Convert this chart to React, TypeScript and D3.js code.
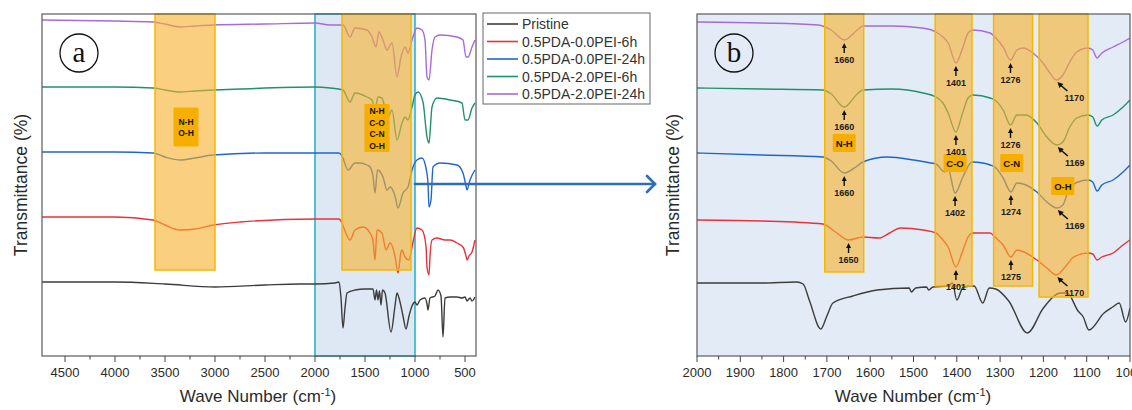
import * as d3 from "d3";

// series order: Pristine, red, blue, green, purple (bottom to top)
const seriesNames = ["Pristine", "0.5PDA-0.0PEI-6h", "0.5PDA-0.0PEI-24h", "0.5PDA-2.0PEI-6h", "0.5PDA-2.0PEI-24h"];
const seriesColors = ["#3c3c3c", "#e6323b", "#2166c6", "#22906a", "#a66bd8"];

type Pt = [number, number]; // [wave number, transmittance (a.u., stacked)]

// ---- panel (a): full range 4730-390 cm-1 ----
const pristineA: Pt[] = [
  [4730, 74], [4000, 74], [3500, 72], [3000, 69], [2500, 71], [2150, 72], [2000, 72], [1800, 73], [1760, 74],
  [1740, 58], [1720, 28], [1700, 48], [1680, 63], [1600, 66], [1500, 67], [1420, 67], [1400, 56], [1385, 66],
  [1370, 56], [1355, 65], [1340, 51], [1325, 66], [1300, 63], [1240, 24], [1200, 50], [1180, 63], [1160, 58],
  [1120, 40], [1090, 27], [1060, 40], [1030, 50], [1000, 54], [980, 51], [950, 56], [900, 58], [880, 52],
  [870, 46], [850, 58], [800, 60], [770, 66], [740, 60], [720, 19], [700, 58], [650, 59], [580, 59],
  [530, 58], [500, 59], [480, 55], [450, 58], [430, 55], [400, 59],
];
const redA: Pt[] = [
  [4730, 139], [4000, 139], [3620, 136], [3500, 131], [3350, 126], [3200, 127], [3020, 131], [2750, 134],
  [2000, 137], [1760, 137], [1730, 133], [1700, 125], [1650, 116], [1600, 126], [1520, 129], [1450, 123],
  [1420, 115], [1400, 96], [1380, 126], [1330, 123], [1290, 106], [1250, 113], [1200, 100], [1170, 83],
  [1140, 104], [1130, 106], [1100, 99], [1060, 96], [1030, 109], [980, 128], [930, 126], [890, 110],
  [880, 89], [860, 81], [850, 100], [830, 116], [780, 118], [700, 116], [650, 116], [580, 113], [520, 109],
  [490, 100], [480, 96], [460, 100], [430, 104], [400, 116],
];
const blueA: Pt[] = [
  [4730, 204], [4000, 204], [3620, 203], [3500, 199], [3350, 196], [3200, 198], [3020, 201], [2500, 203],
  [2000, 203], [1760, 203], [1730, 200], [1670, 186], [1600, 193], [1550, 193], [1480, 191], [1450, 189],
  [1420, 180], [1400, 163], [1375, 186], [1320, 179], [1280, 166], [1250, 169], [1200, 160], [1170, 148],
  [1120, 163], [1070, 169], [1030, 186], [980, 196], [930, 198], [890, 188], [870, 173], [860, 149],
  [840, 156], [820, 189], [750, 193], [580, 191], [520, 183], [490, 170], [480, 166], [450, 176], [400, 186],
];
const greenA: Pt[] = [
  [4730, 269], [4000, 269], [3620, 268], [3500, 266], [3350, 264], [3200, 265], [3020, 266], [2750, 267],
  [2000, 269], [1850, 268], [1720, 266], [1650, 254], [1600, 263], [1480, 259], [1430, 256], [1400, 246],
  [1370, 259], [1330, 258], [1290, 243], [1270, 239], [1230, 246], [1180, 216], [1130, 233], [1100, 239],
  [1070, 236], [1030, 249], [1000, 261], [970, 264], [920, 254], [880, 219], [860, 213], [830, 249],
  [780, 258], [650, 256], [530, 253], [500, 236], [470, 236], [430, 248], [400, 253],
];
const purpleA: Pt[] = [
  [4730, 336], [4000, 335], [3620, 334], [3500, 332], [3350, 329], [3200, 330], [3020, 331], [2500, 332],
  [2000, 333], [1850, 331], [1720, 331], [1650, 319], [1600, 328], [1480, 326], [1430, 319], [1390, 309],
  [1360, 324], [1320, 316], [1280, 306], [1230, 313], [1180, 279], [1140, 299], [1100, 309], [1070, 303],
  [1030, 316], [980, 328], [930, 326], [900, 316], [880, 279], [860, 276], [830, 306], [800, 319],
  [750, 321], [580, 319], [520, 316], [490, 299], [470, 299], [430, 309], [400, 316],
];

// ---- panel (b): zoom 2000-1000 cm-1 ----
const pristineB: Pt[] = [
  [2000, 73], [1850, 73], [1770, 74], [1755, 72], [1740, 55], [1714, 27], [1700, 40], [1686, 53], [1640, 60],
  [1584, 66], [1510, 68], [1505, 64], [1495, 68], [1470, 69], [1465, 66], [1455, 69], [1420, 70], [1410, 73],
  [1400, 56], [1385, 69], [1360, 70], [1340, 53], [1325, 68], [1310, 67], [1280, 55], [1237, 23], [1200, 48],
  [1160, 63], [1145, 63], [1120, 45], [1108, 39], [1095, 26], [1060, 43], [1040, 49], [1025, 53], [1010, 34],
  [1000, 48],
];
const redB: Pt[] = [
  [2000, 136], [1850, 135], [1709, 132], [1680, 124], [1650, 116], [1617, 119], [1580, 118], [1555, 123],
  [1530, 128], [1478, 126], [1448, 123], [1432, 116], [1420, 109], [1402, 89], [1388, 103], [1374, 119],
  [1363, 123], [1323, 123], [1312, 119], [1293, 111], [1275, 99], [1261, 106], [1240, 103], [1215, 96],
  [1192, 88], [1170, 81], [1150, 89], [1130, 99], [1097, 103], [1086, 102], [1076, 96], [1065, 99],
  [1039, 103], [1016, 111], [1000, 116],
];
const blueB: Pt[] = [
  [2000, 203], [1850, 201], [1709, 199], [1690, 195], [1660, 183], [1630, 190], [1617, 194], [1560, 199],
  [1500, 196], [1460, 193], [1448, 192], [1428, 184], [1420, 187], [1404, 163], [1386, 179], [1365, 194],
  [1340, 193], [1323, 191], [1312, 189], [1293, 178], [1275, 164], [1261, 173], [1240, 171], [1215, 164],
  [1192, 154], [1169, 148], [1155, 151], [1139, 169], [1120, 174], [1097, 176], [1086, 174], [1076, 165],
  [1065, 171], [1039, 176], [1016, 184], [1000, 191],
];
const greenB: Pt[] = [
  [2000, 268], [1850, 267], [1710, 266], [1690, 262], [1660, 249], [1630, 262], [1617, 266], [1550, 267],
  [1478, 263], [1448, 259], [1432, 253], [1420, 243], [1402, 224], [1388, 241], [1374, 258], [1363, 261],
  [1323, 258], [1312, 256], [1293, 246], [1276, 231], [1261, 241], [1240, 241], [1215, 233], [1192, 219],
  [1169, 211], [1155, 214], [1139, 229], [1123, 238], [1097, 241], [1086, 239], [1076, 230], [1065, 236],
  [1039, 241], [1016, 249], [1000, 256],
];
const purpleB: Pt[] = [
  [2000, 334], [1850, 333], [1720, 331], [1690, 326], [1660, 316], [1630, 326], [1617, 330], [1550, 330],
  [1480, 328], [1448, 324], [1432, 319], [1420, 313], [1402, 293], [1388, 306], [1374, 323], [1363, 326],
  [1323, 323], [1312, 319], [1293, 309], [1276, 296], [1261, 306], [1247, 308], [1224, 303], [1201, 293],
  [1185, 283], [1170, 276], [1155, 281], [1139, 294], [1123, 304], [1097, 308], [1086, 306], [1076, 298],
  [1065, 303], [1039, 309], [1016, 314], [1000, 318],
];

const spectraA = [pristineA, redA, blueA, greenA, purpleA];
const spectraB = [pristineB, redB, blueB, greenB, purpleB];

const majorTicksA = [4500, 4000, 3500, 3000, 2500, 2000, 1500, 1000, 500];
const minorTicksA = [4250, 3750, 3250, 2750, 2250, 1750, 1250, 750];
const majorTicksB = [2000, 1900, 1800, 1700, 1600, 1500, 1400, 1300, 1200, 1100, 1000];
const minorTicksB = [1950, 1850, 1750, 1650, 1550, 1450, 1350, 1250, 1150, 1050];

// highlighted bands: [from, to, lower edge in transmittance]
const bandsA: [number, number, number][] = [[3600, 3000, 86], [1730, 1040, 86]];
const zoomWindowA: [number, number] = [2000, 1000];
const bandsB: [number, number, number][] = [[1705, 1615, 84], [1450, 1365, 70], [1315, 1225, 70], [1210, 1097, 59]];

const bandLabelsA = [
  { wn: 3290, t: 229, lines: ["N-H", "O-H"] },
  { wn: 1380, t: 228, lines: ["N-H", "C-O", "C-N", "O-H"] },
];
const bandLabelsB = [
  { wn: 1660, t: 213, lines: ["N-H"] },
  { wn: 1404, t: 193, lines: ["C-O"] },
  { wn: 1273, t: 193, lines: ["C-N"] },
  { wn: 1155, t: 170, lines: ["O-H"] },
];

// peak annotations in panel b: series index, wave number, label
const peaksB = [
  { s: 4, wn: 1660, label: "1660" }, { s: 4, wn: 1402, label: "1401" }, { s: 4, wn: 1276, label: "1276" }, { s: 4, wn: 1170, label: "1170", diag: true },
  { s: 3, wn: 1660, label: "1660" }, { s: 3, wn: 1402, label: "1401" }, { s: 3, wn: 1276, label: "1276" }, { s: 3, wn: 1169, label: "1169", diag: true },
  { s: 2, wn: 1660, label: "1660" }, { s: 2, wn: 1404, label: "1402" }, { s: 2, wn: 1275, label: "1274" }, { s: 2, wn: 1169, label: "1169", diag: true },
  { s: 1, wn: 1650, label: "1650" }, { s: 1, wn: 1402, label: "1401" }, { s: 1, wn: 1275, label: "1275" }, { s: 1, wn: 1170, label: "1170", diag: true },
];

const FONT = "'Liberation Sans', Arial, Helvetica, sans-serif";

const xA = d3.scaleLinear().domain([4730, 390]).range([42, 476]);
const xB = d3.scaleLinear().domain([2000, 1000]).range([697, 1130]);
const y = d3.scaleLinear().domain([0, 342]).range([356, 14]);

const minNear = (pts: Pt[], wn: number) => d3.min(pts.filter((p) => Math.abs(p[0] - wn) <= 12), (p) => p[1]) ?? 0;

function Panel({ x, spectra, major, minor, bands, labels, id, letter, titleX, yTitleX }: any) {
  const [x0, x1] = x.range();
  const [yb, yt] = y.range();
  const line = d3.line<Pt>().x((d) => x(d[0])).y((d) => y(d[1])).curve(d3.curveMonotoneX);
  return (
    <g>
      <defs>
        <clipPath id={id}>
          <rect x={x0} y={yt} width={x1 - x0} height={yb - yt} />
        </clipPath>
      </defs>
      {id === "clipB" && <rect x={x0} y={yt} width={x1 - x0} height={yb - yt} fill="#e3ecf6" />}
      {id === "clipA" && (
        <rect x={x(zoomWindowA[0])} y={yt} width={x(zoomWindowA[1]) - x(zoomWindowA[0])} height={yb - yt}
          fill="#dde8f4" stroke="#2ab4c8" strokeWidth={1.6} />
      )}
      <g clipPath={`url(#${id})`}>
        {spectra.map((pts: Pt[], i: number) => (
          <path key={i} d={line(pts) ?? ""} fill="none" stroke={seriesColors[i]} strokeWidth={1.4} strokeLinejoin="round" />
        ))}
      </g>
      {bands.map((b: [number, number, number], i: number) => (
        <rect key={i} x={x(b[0])} y={yt} width={x(b[1]) - x(b[0])} height={y(b[2]) - yt}
          fill="#f7b12c" fillOpacity={0.6} stroke="#f5b800" strokeWidth={1.5} />
      ))}
      {labels.map((l: any, i: number) => {
        const multi = l.lines.length > 1;
        const lh = multi ? 11.5 : 0;
        const w = multi ? 25 : 23;
        const h = multi ? Math.max(l.lines.length * lh + 2, 39) : 18;
        const cx = x(l.wn), cy = y(l.t);
        return (
          <g key={i}>
            <rect x={cx - w / 2} y={cy - h / 2} width={w} height={h} fill="#f6ae00" rx={1} />
            {l.lines.map((t: string, j: number) => (
              <text key={j} x={cx} y={cy - ((l.lines.length - 1) * lh) / 2 + j * lh + 3.5} textAnchor="middle"
                fontFamily={FONT} fontWeight="bold" fontSize={multi ? 8.5 : 9.5} fill="#151515">{t}</text>
            ))}
          </g>
        );
      })}
      {/* frame */}
      <rect x={x0} y={yt} width={x1 - x0} height={yb - yt} fill="none" stroke="#5a5a5a" strokeWidth={1.2} />
      {major.map((t: number) => (
        <g key={t}>
          <line x1={x(t)} x2={x(t)} y1={yb} y2={yb + 6} stroke="#444" strokeWidth={1} />
          <text x={x(t)} y={yb + 21} textAnchor="middle" fontFamily={FONT} fontSize={13} fill="#2a2a2a">{t}</text>
        </g>
      ))}
      {minor.map((t: number) => (
        <line key={t} x1={x(t)} x2={x(t)} y1={yb} y2={yb + 3.5} stroke="#444" strokeWidth={1} />
      ))}
      <text x={titleX} y={yb + 46} textAnchor="middle" fontFamily={FONT} fontSize={17} fill="#2a2a2a">
        Wave Number (cm<tspan dy={-6} fontSize={11}>-1</tspan><tspan dy={6}>)</tspan>
      </text>
      <text transform={`translate(${yTitleX},${(yb + yt) / 2}) rotate(-90)`} textAnchor="middle" fontFamily={FONT}
        fontSize={17.5} fill="#2a2a2a">Transmittance (%)</text>
      <circle cx={x0 + 37} cy={yt + 39} r={19} fill="none" stroke="#111" strokeWidth={1.3} />
      <text x={x0 + 37} y={yt + 48} textAnchor="middle" fontFamily="'Liberation Serif', 'DejaVu Serif', serif" fontSize={29} fill="#111">{letter}</text>
    </g>
  );
}

export default function App() {
  const W = 1132, H = 410;
  return (
    <svg width={W} height={H} style={{ position: "absolute", left: 0, top: 0, background: "#fff" }}>
      <Panel x={xA} spectra={spectraA} major={majorTicksA} minor={minorTicksA} bands={bandsA} labels={bandLabelsA}
        id="clipA" letter="a" titleX={258} yTitleX={27} />
      <Panel x={xB} spectra={spectraB} major={majorTicksB} minor={minorTicksB} bands={bandsB} labels={bandLabelsB}
        id="clipB" letter="b" titleX={913} yTitleX={679} />

      {/* peak annotations in (b) */}
      {peaksB.map((p, i) => {
        const px = xB(p.wn);
        const py = y(minNear(spectraB[p.s], p.wn));
        if (p.diag) {
          return (
            <g key={i}>
              <line x1={px + 4} y1={py + 5} x2={px + 11} y2={py + 11} stroke="#111" strokeWidth={1.6} />
              <path d={`M${px + 1},${py + 2} L${px + 7},${py + 4} L${px + 3},${py + 8} Z`} fill="#111" />
              <text x={px + 18} y={py + 21} textAnchor="middle" fontFamily={FONT} fontWeight="bold" fontSize={9} fill="#1a1a1a">{p.label}</text>
            </g>
          );
        }
        return (
          <g key={i}>
            <line x1={px} y1={py + 6} x2={px} y2={py + 13} stroke="#111" strokeWidth={1.4} />
            <path d={`M${px},${py + 3} L${px - 2.5},${py + 8} L${px + 2.5},${py + 8} Z`} fill="#111" />
            <text x={px} y={py + 23} textAnchor="middle" fontFamily={FONT} fontWeight="bold" fontSize={9} fill="#1a1a1a">{p.label}</text>
          </g>
        );
      })}

      {/* arrow from zoom window (a) to (b) */}
      <g stroke="#2e6cb3" strokeWidth={2.6} fill="none" strokeLinecap="round">
        <line x1={xA(zoomWindowA[1])} y1={y(172)} x2={655} y2={y(172)} />
        <polyline points={`${647},${y(172) - 8} ${655},${y(172)} ${647},${y(172) + 8}`} />
      </g>

      {/* legend */}
      <g>
        <rect x={483} y={13} width={167} height={91} fill="#fff" stroke="#666" strokeWidth={1} />
        {seriesNames.map((n, i) => (
          <g key={n} transform={`translate(487,${24 + i * 17.5})`}>
            <line x1={0} x2={31} y1={0} y2={0} stroke={seriesColors[i]} strokeWidth={1.6} />
            <text x={35} y={5} fontFamily={FONT} fontSize={14} fill="#333">{n}</text>
          </g>
        ))}
      </g>
    </svg>
  );
}
